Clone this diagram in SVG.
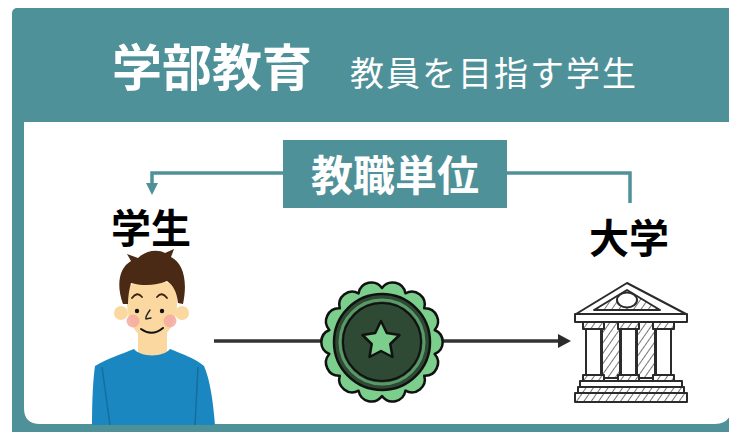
<svg xmlns="http://www.w3.org/2000/svg" width="729" height="432" viewBox="0 0 729 432">
  <style>
    .jp { font-family: "Noto Sans CJK JP", "Noto Sans", sans-serif; }
    .title { font-size: 50px; font-weight: 700; fill: #ffffff; }
    .sub { font-size: 34px; font-weight: 400; fill: #ffffff; letter-spacing: 2px; }
    .lbl { font-size: 40px; font-weight: 700; fill: #000000; }
    .tag { font-size: 42px; font-weight: 700; fill: #ffffff; }
    .flow { fill: none; stroke: #4f9199; stroke-width: 3.5; }
    .main { fill: none; stroke: #333333; stroke-width: 3.5; }
    .bld { stroke: #2b2b2b; stroke-width: 2; stroke-linejoin: round; }
  </style>
  <defs>
    <pattern id="hatch" width="6" height="6" patternUnits="userSpaceOnUse" patternTransform="rotate(35)">
      <rect width="6" height="6" fill="#ffffff"/>
      <line x1="0" y1="0" x2="0" y2="6" stroke="#2b2b2b" stroke-width="1.3"/>
    </pattern>
  </defs>

  <!-- frame: teal panel with white body -->
  <g id="frame">
    <rect x="12" y="8" width="740" height="432" rx="5" fill="#4f9199"/>
    <path d="M24,122 H731 V408 Q731,424 715,424 H40 Q24,424 24,408 Z" fill="#ffffff"/>
  </g>

  <!-- heading -->
  <g id="heading">
    <text class="jp title" x="112" y="86">学部教育</text>
    <text class="jp sub" x="350" y="86">教員を目指す学生</text>
  </g>

  <!-- connectors -->
  <g id="connectors">
    <path class="flow" d="M630,203 V173 H152 V184"/>
    <path d="M146,183 L158,183 L152,195 Z" fill="#4f9199"/>
    <line class="main" x1="214" y1="341" x2="330" y2="341"/>
    <line class="main" x1="436" y1="341" x2="560" y2="341"/>
    <path d="M558,334 L571,341 L558,348 Z" fill="#2b2b2b"/>
  </g>

  <!-- credit label on the return connector -->
  <g id="credit">
    <rect x="283" y="140" width="224" height="68" fill="#4f9199"/>
    <text class="jp tag" x="395" y="191" text-anchor="middle">教職単位</text>
  </g>

  <!-- student -->
  <g id="student">
    <text class="jp lbl" x="111" y="243">学生</text>
    <circle cx="121" cy="313" r="7" fill="#fbd89f"/>
    <circle cx="182" cy="313" r="7" fill="#fbd89f"/>
    <rect x="138" y="328" width="29" height="28" fill="#fbd89f"/>
    <path d="M127,288 C125,315 131,336 152,341 C173,336 179,315 177,288 C168,278 136,278 127,288 Z" fill="#fbd89f"/>
    <path d="M123,304 C116,285 119,268 131,261 L127,254 L138,258 C146,250 158,249 165,253 L174,249 L171,257 C183,263 188,280 183,304 L178,303 C177,292 173,285 167,281 C156,286 141,286 131,283 C129,290 128,297 128,304 Z" fill="#4a2a14"/>
    <path d="M132,298 Q137,291 142,297 M157,297 Q162,291 167,298" fill="none" stroke="#3a2010" stroke-width="1.8" stroke-linecap="round"/>
    <circle cx="137" cy="311" r="2.2" fill="#111"/>
    <circle cx="162" cy="311" r="2.2" fill="#111"/>
    <path d="M150,310 Q145,317 146,319 L151,318" fill="none" stroke="#222" stroke-width="1.4" stroke-linecap="round"/>
    <circle cx="133" cy="321" r="6.5" fill="#f4aaa2" opacity="0.85"/>
    <circle cx="170" cy="321" r="6.5" fill="#f4aaa2" opacity="0.85"/>
    <path d="M141,329 Q152,337 163,328" fill="none" stroke="#111" stroke-width="2" stroke-linecap="round"/>
    <path d="M95,366 C108,358 122,354 134,349 C140,357 163,358 170,349 C182,354 195,358 204,366 C210,380 213,400 215,425 H92 C92,400 93,380 95,366 Z" fill="#1b87c0"/>
    <path d="M102,367 L110,425 M198,367 L195,425" stroke="#156e9c" stroke-width="1.5" fill="none"/>
  </g>

  <!-- credit badge -->
  <g id="badge" stroke="#111" stroke-width="2.5" stroke-linejoin="round">
    <path d="M382,288 A13,13 0 0 1 405.43,293.35 A13,13 0 0 1 424.22,308.33 A13,13 0 0 1 434.65,329.98 A13,13 0 0 1 434.65,354.02 A13,13 0 0 1 424.22,375.67 A13,13 0 0 1 405.43,390.65 A13,13 0 0 1 382,396 A13,13 0 0 1 358.57,390.65 A13,13 0 0 1 339.78,375.67 A13,13 0 0 1 329.35,354.02 A13,13 0 0 1 329.35,329.98 A13,13 0 0 1 339.78,308.33 A13,13 0 0 1 358.57,293.35 A13,13 0 0 1 382,288 Z" fill="#7cce8c"/>
    <circle cx="382" cy="342" r="48" fill="#2e4a35"/>
    <circle cx="382" cy="342" r="42" fill="none" stroke="#5a9a68" stroke-width="3"/>
    <circle cx="382" cy="342" r="39" fill="none" stroke="#111" stroke-width="2"/>
    <path d="M381,321 L386.8,333 L399.5,335 L390.3,344 L392.5,357 L381,351 L369.5,357 L371.7,344 L362.5,335 L375.2,333 Z" fill="#7cce8c"/>
  </g>

  <!-- university -->
  <g id="university">
    <text class="jp lbl" x="589" y="253">大学</text>
    <g class="bld">
      <path d="M627,283 L576,314 H686 Z" fill="#ffffff"/>
      <path d="M627,290 L594,310 H660 Z" fill="url(#hatch)"/>
      <ellipse cx="627" cy="300" rx="10" ry="7.5" fill="#ffffff"/>
      <rect x="575" y="314" width="112" height="8" fill="#ffffff"/>
      <rect x="602" y="322" width="18" height="56" fill="url(#hatch)"/>
      <rect x="637" y="322" width="18" height="56" fill="url(#hatch)"/>
      <rect x="583" y="322" width="21" height="7" fill="url(#hatch)"/>
      <rect x="618" y="322" width="21" height="7" fill="url(#hatch)"/>
      <rect x="653" y="322" width="21" height="7" fill="url(#hatch)"/>
      <rect x="586" y="329" width="15" height="46" fill="#ffffff"/>
      <rect x="621" y="329" width="15" height="46" fill="#ffffff"/>
      <rect x="656" y="329" width="15" height="46" fill="#ffffff"/>
      <rect x="583" y="375" width="21" height="6" fill="url(#hatch)"/>
      <rect x="618" y="375" width="21" height="6" fill="url(#hatch)"/>
      <rect x="653" y="375" width="21" height="6" fill="url(#hatch)"/>
      <rect x="580" y="381" width="102" height="6" fill="#ffffff"/>
      <rect x="578" y="387" width="106" height="6" fill="url(#hatch)"/>
      <rect x="575" y="393" width="112" height="9" fill="url(#hatch)"/>
    </g>
  </g>
</svg>
